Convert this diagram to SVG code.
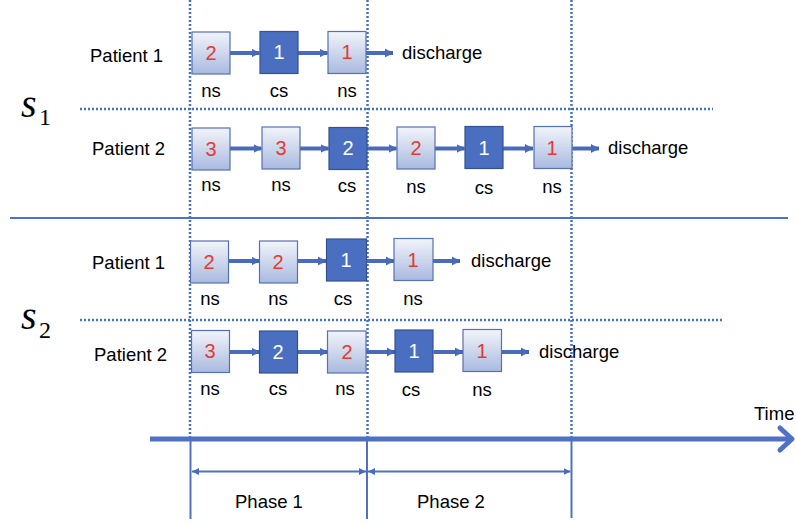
<svg xmlns="http://www.w3.org/2000/svg" width="796" height="525" viewBox="0 0 796 525">
<defs>
<linearGradient id="lg" x1="0" y1="0" x2="0" y2="1">
<stop offset="0" stop-color="#f2f4fa"/>
<stop offset="1" stop-color="#a9badf"/>
</linearGradient>
<marker id="ah" markerUnits="userSpaceOnUse" markerWidth="9" markerHeight="10" refX="8" refY="5" orient="auto">
<path d="M0,1 L8,5 L0,9 Z" fill="#4a6bbd" stroke="#3c5aa6" stroke-width="0.6"/>
</marker>
<marker id="ph" markerUnits="userSpaceOnUse" markerWidth="8" markerHeight="8" refX="7" refY="4" orient="auto-start-reverse">
<path d="M0,0.5 L7,4 L0,7.5 Z" fill="#4a6bbd"/>
</marker>
<style>
.lt{fill:url(#lg);stroke:#5570b5;stroke-width:1.2}
.dk{fill:#4a6fc1;stroke:#34528f;stroke-width:1.2}
.t{font-family:"Liberation Sans",Arial,sans-serif;font-size:18.5px;fill:#000}
.nr{font-family:"Liberation Sans",Arial,sans-serif;font-size:20px;fill:#e53a2f;text-anchor:middle}
.nw{font-family:"Liberation Sans",Arial,sans-serif;font-size:20px;fill:#fff;text-anchor:middle}
.lb{font-family:"Liberation Sans",Arial,sans-serif;font-size:18.5px;fill:#000;text-anchor:middle}
.ar{stroke:#4a6bbd;stroke-width:4;fill:none;marker-end:url(#ah)}
.dot{stroke:#4472c4;stroke-width:2.5;stroke-dasharray:2 2;fill:none}
.sol{stroke:#4f70c3;fill:none}
.sv{font-family:"Liberation Serif","Times New Roman",serif;font-style:italic;font-size:40px;fill:#000}
.sb{font-family:"Liberation Serif","Times New Roman",serif;font-size:24px;fill:#000}
</style>
</defs>
<rect width="796" height="525" fill="#fff"/>

<g id="grid">
<line class="dot" x1="190" y1="0" x2="190" y2="437"/>
<line class="dot" x1="367.5" y1="0" x2="367.5" y2="437"/>
<line class="dot" x1="571.5" y1="0" x2="571.5" y2="437"/>
<line class="dot" x1="80" y1="109" x2="713" y2="109"/>
<line class="dot" x1="80" y1="320" x2="723" y2="320"/>
<line class="sol" stroke-width="2" x1="10" y1="218" x2="788" y2="218"/>
</g>

<g id="labels">
<text class="sv" x="21" y="117">s</text><text class="sb" x="39" y="125">1</text>
<text class="sv" x="21" y="329">s</text><text class="sb" x="39" y="338">2</text>
<text class="t" x="90" y="62">Patient 1</text>
<text class="t" x="92" y="155">Patient 2</text>
<text class="t" x="92" y="269">Patient 1</text>
<text class="t" x="94" y="361">Patient 2</text>
</g>

<g id="connectors">
<line class="ar" x1="230" y1="53" x2="259.5" y2="53"/>
<line class="ar" x1="298" y1="53" x2="327.5" y2="53"/>
<line class="ar" x1="366" y1="53" x2="393" y2="53"/>

<line class="ar" x1="230" y1="148.5" x2="261.5" y2="148.5"/>
<line class="ar" x1="300" y1="148.5" x2="328.5" y2="148.5"/>
<line class="ar" x1="367" y1="148.5" x2="396.5" y2="148.5"/>
<line class="ar" x1="435" y1="148.5" x2="464.5" y2="148.5"/>
<line class="ar" x1="503" y1="148.5" x2="533" y2="148.5"/>
<line class="ar" x1="572" y1="148.5" x2="599" y2="148.5"/>

<line class="ar" x1="228.5" y1="261" x2="259.5" y2="261"/>
<line class="ar" x1="297.5" y1="261" x2="326" y2="261"/>
<line class="ar" x1="366.5" y1="261" x2="394" y2="261"/>
<line class="ar" x1="433" y1="261" x2="460" y2="261"/>

<line class="ar" x1="229.5" y1="352" x2="259.5" y2="352"/>
<line class="ar" x1="297.5" y1="352" x2="327.5" y2="352"/>
<line class="ar" x1="366" y1="352" x2="395" y2="352"/>
<line class="ar" x1="433.5" y1="352" x2="463" y2="352"/>
<line class="ar" x1="502" y1="352" x2="529" y2="352"/>
</g>

<g id="s1p1">
<rect class="lt" x="192" y="32" width="38" height="42"/><text class="nr" x="211" y="60">2</text><text class="lb" x="211" y="97">ns</text>
<rect class="dk" x="260" y="31.5" width="38" height="42"/><text class="nw" x="279" y="59">1</text><text class="lb" x="279" y="97">cs</text>
<rect class="lt" x="328" y="31.5" width="38" height="42"/><text class="nr" x="347" y="59">1</text><text class="lb" x="347" y="97">ns</text>
<text class="t" x="402" y="59">discharge</text>
</g>

<g id="s1p2">
<rect class="lt" x="192" y="128" width="38" height="42"/><text class="nr" x="211" y="156">3</text><text class="lb" x="211" y="191">ns</text>
<rect class="lt" x="262" y="127" width="38" height="42"/><text class="nr" x="281" y="155">3</text><text class="lb" x="281" y="191">ns</text>
<rect class="dk" x="329" y="127.5" width="38" height="42"/><text class="nw" x="348" y="155">2</text><text class="lb" x="347" y="192">cs</text>
<rect class="lt" x="397" y="127" width="38" height="42"/><text class="nr" x="416" y="155">2</text><text class="lb" x="416" y="193">ns</text>
<rect class="dk" x="465" y="126.5" width="38" height="42"/><text class="nw" x="484" y="155">1</text><text class="lb" x="484" y="194">cs</text>
<rect class="lt" x="534" y="126.5" width="38" height="42"/><text class="nr" x="552" y="155">1</text><text class="lb" x="552" y="193">ns</text>
<text class="t" x="608" y="154">discharge</text>
</g>

<g id="s2p1">
<rect class="lt" x="190.5" y="241" width="38" height="42"/><text class="nr" x="209" y="269">2</text><text class="lb" x="210" y="305">ns</text>
<rect class="lt" x="259.5" y="241" width="38" height="42"/><text class="nr" x="278" y="269">2</text><text class="lb" x="278" y="305">ns</text>
<rect class="dk" x="326.5" y="239" width="40" height="42"/><text class="nw" x="346" y="267">1</text><text class="lb" x="343" y="305">cs</text>
<rect class="lt" x="394" y="238.5" width="39" height="42"/><text class="nr" x="413" y="267">1</text><text class="lb" x="413" y="305">ns</text>
<text class="t" x="471" y="267">discharge</text>
</g>

<g id="s2p2">
<rect class="lt" x="191.5" y="330.5" width="38" height="42"/><text class="nr" x="210" y="358">3</text><text class="lb" x="210" y="395">ns</text>
<rect class="dk" x="259.5" y="331" width="38" height="42"/><text class="nw" x="278" y="359">2</text><text class="lb" x="278" y="395">cs</text>
<rect class="lt" x="327.5" y="331" width="38.5" height="42"/><text class="nr" x="347" y="359">2</text><text class="lb" x="345" y="395">ns</text>
<rect class="dk" x="395" y="330" width="38" height="42"/><text class="nw" x="414" y="358">1</text><text class="lb" x="411" y="396">cs</text>
<rect class="lt" x="463" y="329.5" width="38.5" height="42"/><text class="nr" x="482" y="358">1</text><text class="lb" x="482" y="396">ns</text>
<text class="t" x="539" y="358">discharge</text>
</g>

<g id="timeline">
<line class="sol" stroke-width="5" x1="150" y1="439" x2="792" y2="439"/>
<polyline class="sol" stroke-width="5" stroke-linecap="round" stroke-linejoin="round" points="780,428 792,439 780,450"/>
<text class="t" x="754" y="420">Time</text>
<line class="sol" stroke-width="2" x1="190.5" y1="439" x2="190.5" y2="519"/>
<line class="sol" stroke-width="2" x1="367" y1="439" x2="367" y2="519"/>
<line class="sol" stroke-width="2" x1="571.5" y1="439" x2="571.5" y2="518"/>
<line class="sol" stroke-width="2" x1="192" y1="471.5" x2="366" y2="471.5" marker-start="url(#ph)" marker-end="url(#ph)"/>
<line class="sol" stroke-width="2" x1="368" y1="471.5" x2="570.5" y2="471.5" marker-start="url(#ph)" marker-end="url(#ph)"/>
<text class="t" x="235" y="508">Phase 1</text>
<text class="t" x="417" y="508">Phase 2</text>
</g>
</svg>
